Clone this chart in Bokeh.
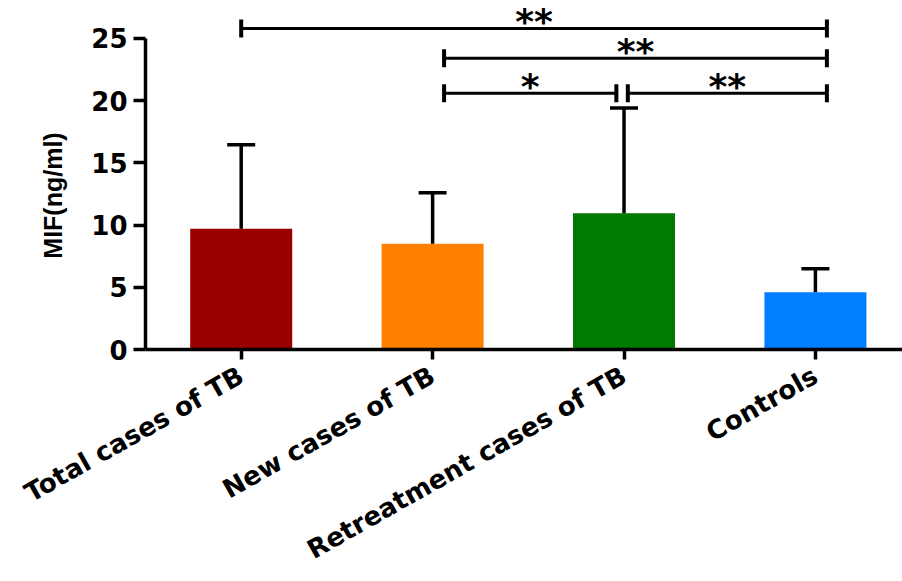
import math

from bokeh.plotting import figure
from bokeh.models import (Range1d, FixedTicker, Whisker, TeeHead,
                          ColumnDataSource, Label)
from bokeh.core.properties import value
from bokeh.embed import file_html
from bokeh.resources import INLINE

# MIF serum levels (ng/ml), mean and SD per group
groups = ["Total cases of TB", "New cases of TB", "Retreatment cases of TB", "Controls"]
mif_mean = [9.7, 8.5, 10.95, 4.6]
mif_sd = [6.75, 4.1, 8.45, 1.9]
bar_colors = ["#990000", "#FF8000", "#007A00", "#0080FF"]
y_ticks = [0, 5, 10, 15, 20, 25]

# pairwise comparisons: from group, to group, significance, bracket height (ng/ml)
cmp_from = ["Total cases of TB", "New cases of TB", "New cases of TB", "Retreatment cases of TB"]
cmp_to = ["Controls", "Controls", "Retreatment cases of TB", "Controls"]
cmp_stars = ["**", "**", "*", "**"]
cmp_level = [25.8, 23.4, 20.6, 20.6]

# small horizontal nudges of bracket ends (in category units) so that
# adjoining brackets on the same level do not overlap
start_nudge = [0.0, 0.06, 0.06, 0.02]
end_nudge = [0.06, 0.06, -0.04, 0.06]

pos = {g: i for i, g in enumerate(groups)}
xs = list(range(len(groups)))

p = figure(width=902, height=581, output_backend="svg", toolbar_location=None,
           x_range=Range1d(-0.5, 3.455), y_range=Range1d(0, 28.05),
           min_border_left=145, min_border_right=0, min_border_top=0,
           min_border_bottom=232)
p.outline_line_color = None
p.xgrid.visible = False
p.ygrid.visible = False
p.background_fill_color = "white"
p.border_fill_color = "white"

# bars
bars = ColumnDataSource(dict(x=xs, top=mif_mean, color=bar_colors,
                             upper=[m + s for m, s in zip(mif_mean, mif_sd)]))
p.vbar(x="x", top="top", width=0.533, bottom=0, source=bars,
       fill_color="color", line_color=None)

# upper SD error bars
err = Whisker(base="x", lower="top", upper="upper", source=bars,
              line_width=3.5, line_color="black",
              upper_head=TeeHead(size=28, line_width=3.5, line_color="black"),
              lower_head=None, level="glyph")
p.add_layout(err)

# significance brackets
bx0 = [pos[a] + n for a, n in zip(cmp_from, start_nudge)]
bx1 = [pos[b] + n for b, n in zip(cmp_to, end_nudge)]
p.segment(x0=bx0, y0=cmp_level, x1=bx1, y1=cmp_level,
          line_width=3, line_color="black")
p.rect(x=bx0 + bx1, y=cmp_level + cmp_level, width=4, height=18,
       width_units="screen", height_units="screen",
       fill_color="black", line_color=None)
p.text(x=[(a + b) / 2 for a, b in zip(bx0, bx1)], y=cmp_level, text=cmp_stars,
       text_font=value("DejaVu Sans"), text_font_style="bold",
       text_font_size="36px", text_align="center", text_baseline="middle",
       y_offset=-7, text_color="black")

# axes
ya = p.yaxis[0]
ya.ticker = FixedTicker(ticks=y_ticks)
ya.bounds = (0, 25)
ya.minor_tick_line_color = None
ya.axis_line_width = 3.5
ya.major_tick_line_width = 3.5
ya.major_tick_out = 12
ya.major_tick_in = 0
ya.major_label_standoff = 6
ya.major_label_text_font = "DejaVu Sans"
ya.major_label_text_font_style = "bold"
ya.major_label_text_font_size = "26px"
ya.major_label_text_color = "black"

xa = p.xaxis[0]
xa.ticker = FixedTicker(ticks=xs)
xa.major_label_overrides = {i: g for i, g in enumerate(groups)}
xa.minor_tick_line_color = None
xa.axis_line_width = 3.5
xa.major_tick_line_width = 3.5
xa.major_tick_out = 10
xa.major_tick_in = 0
xa.major_label_orientation = 0.515
xa.major_label_standoff = 14
xa.major_label_text_font = "DejaVu Sans"
xa.major_label_text_font_style = "bold"
xa.major_label_text_font_size = "26px"
xa.major_label_text_color = "black"

# y-axis title, centred on the 0-25 span of the axis
p.add_layout(Label(x=52, y=195, x_units="canvas", y_units="canvas",
                   text="MIF(ng/ml)", angle=math.pi / 2,
                   text_align="center", text_baseline="middle",
                   text_font="Liberation Sans", text_font_style="bold",
                   text_font_size="25px", text_color="black"), "left")

open("out.html", "w").write(file_html(p, INLINE))
